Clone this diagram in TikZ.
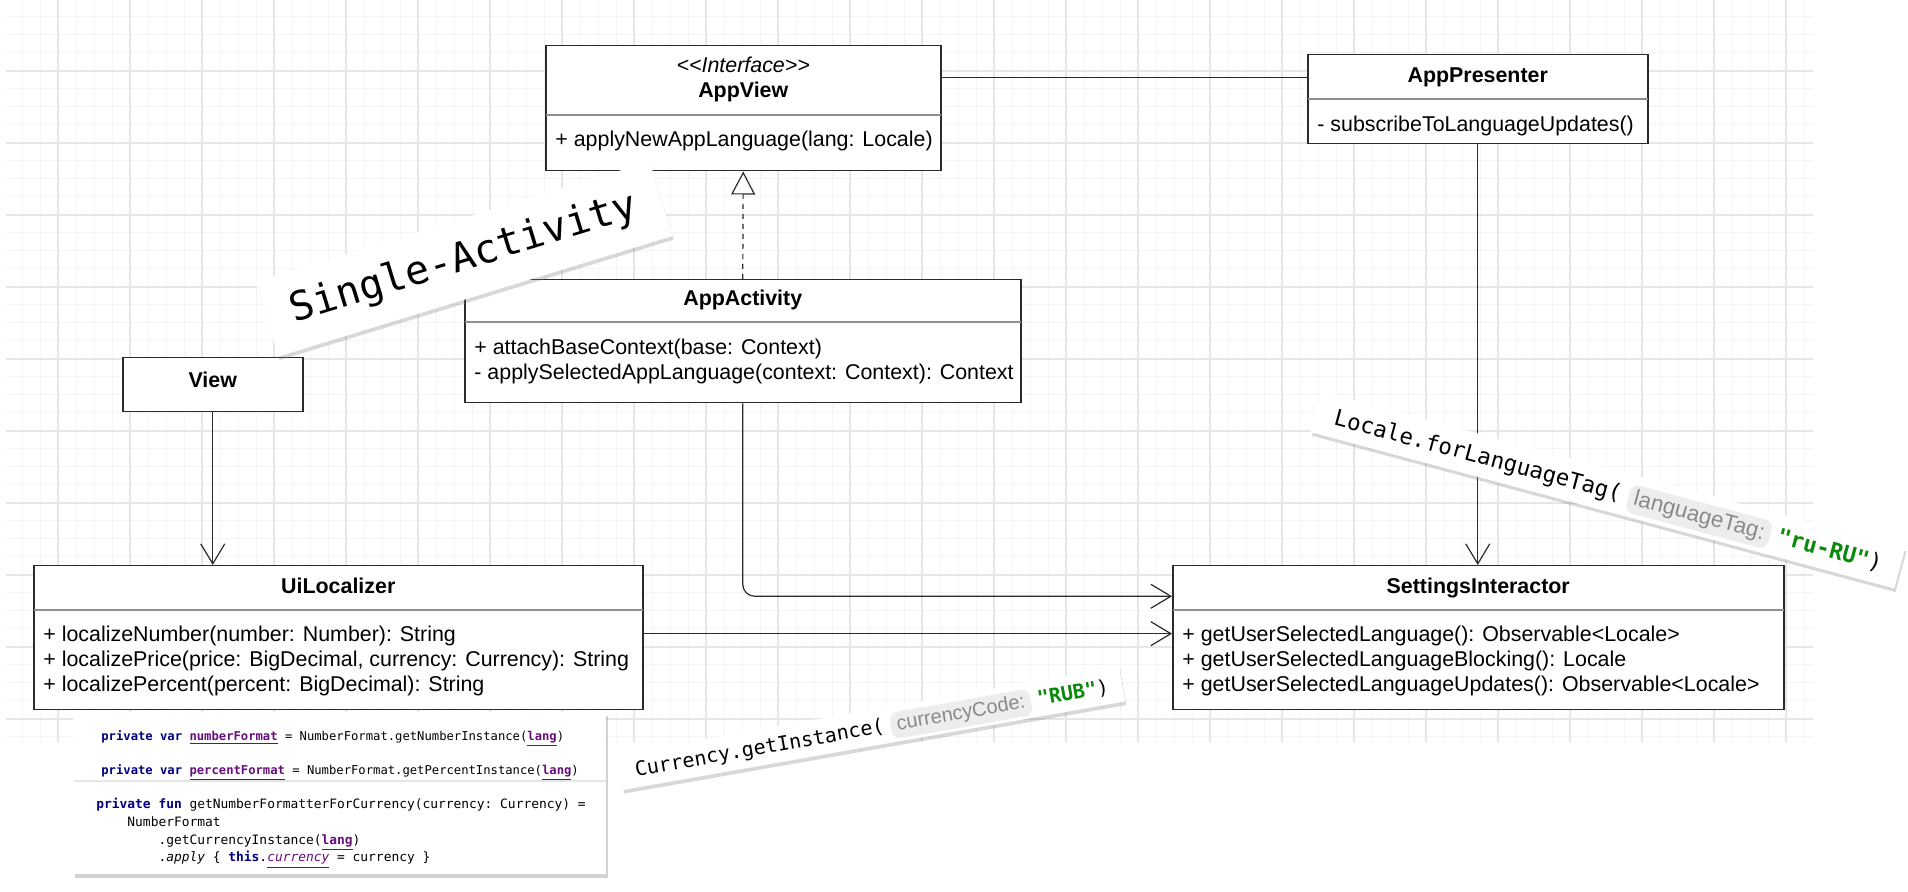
\documentclass[tikz,border=0pt]{standalone}
\usepackage{fontspec}
\setmainfont{Liberation Sans}
\setmonofont{DejaVu Sans Mono}
\usepackage{tikz}
\usetikzlibrary{arrows.meta, positioning, shadows, calc}

\definecolor{gridfaint}{HTML}{F4F4F4}
\definecolor{gridstrong}{HTML}{E6E6E6}
\definecolor{umlline}{HTML}{2B2B2B}
\definecolor{sepline}{HTML}{8F8F8F}
\definecolor{kwnavy}{HTML}{000080}
\definecolor{fieldpurple}{HTML}{660E7A}
\definecolor{strgreen}{HTML}{0A8A0A}
\definecolor{hintbg}{HTML}{EDEDED}
\definecolor{hinttext}{HTML}{8A8A8A}

\newcommand{\codekw}[1]{\textcolor{kwnavy}{\textbf{#1}}}
\newcommand{\codefield}[1]{\textcolor{fieldpurple}{\textbf{\underline{#1}}}}
\newcommand{\codestr}[1]{\textcolor{strgreen}{\textbf{#1}}}

\tikzset{%
	classbox/.style={draw=umlline, line width=0.75pt, fill=white, rectangle, inner sep=0pt, anchor=north west},
	classname/.style={font=\fontsize{10.7}{12.5}\selectfont\bfseries, inner sep=0pt, anchor=base},
	stereo/.style={font=\fontsize{10.7}{12.5}\selectfont\itshape, inner sep=0pt, anchor=base},
	member/.style={font=\fontsize{10.7}{12.5}\selectfont, inner sep=0pt, anchor=base west, xshift=5pt},
	divider/.style={draw=sepline, line width=0.6pt, shorten >=0.4pt, shorten <=0.4pt},
	gridfine/.style={draw=gridfaint, line width=0.5pt},
	gridbold/.style={draw=gridstrong, line width=0.6pt},
	assoc/.style={draw=umlline, line width=0.6pt},
	dep/.style={assoc, -{Straight Barb[length=10pt, width=12pt, line width=0.6pt]}},
	realize/.style={assoc, dash pattern=on 2.5pt off 2.5pt,%
		-{Triangle[length=11.5pt, width=12pt, fill=white, line width=0.6pt]}},
	sticky/.style={fill=white, inner sep=0pt,%
		drop shadow={opacity=0.3, shadow xshift=0.6pt, shadow yshift=-1.8pt}},
	hintcode/.style={inner sep=0pt, anchor=base west},
	hintbox/.style={fill=hintbg, text=hinttext, rounded corners=4pt, inner xsep=3pt, inner ysep=2pt, anchor=base west},
	codebox/.style={fill=white, inner sep=0pt, anchor=north west,%
		drop shadow={opacity=0.35, shadow xshift=1pt, shadow yshift=-2pt}},
	codeline/.style={inner sep=0pt, anchor=north west, align=left}
}

\begin{document}
\begin{tikzpicture}[x=0.5pt, y=-0.5pt]
	\useasboundingbox (0,0) rectangle (1908,892);
	\fill[white] (0,0) rectangle (1908,892);

	% grid paper
	\foreach \gx in {22,40,...,1812} \draw[gridfine] (\gx,0) -- (\gx,742);
	\foreach \gy in {17,35,...,740} \draw[gridfine] (6,\gy) -- (1813,\gy);
	\foreach \gx in {58,130,...,1812} \draw[gridbold] (\gx,0) -- (\gx,742);
	\foreach \gy in {71,143,...,740} \draw[gridbold] (6,\gy) -- (1813,\gy);

	% classes
	\node[classbox, minimum width=197.5pt, minimum height=62.5pt] (appview) at (545,45) {};
	\node[stereo] (appviewstereo) at (appview.north |- 0,73) {<{}<Interface>{}>};
	\node[classname] (appviewname) at (appview.north |- 0,98) {AppView};
	\draw[divider] (appview.west |- 0,115) -- (appview.east |- 0,115);
	\node[member] (appviewop) at (appview.west |- 0,147) {+ applyNewAppLanguage(lang: Locale)};

	\node[classbox, minimum width=170pt, minimum height=44.5pt] (apppresenter) at (1307,54) {};
	\node[classname] (apppresentername) at (apppresenter.north |- 0,83) {AppPresenter};
	\draw[divider] (apppresenter.west |- 0,99) -- (apppresenter.east |- 0,99);
	\node[member] (apppresenterop) at (apppresenter.west |- 0,132) {- subscribeToLanguageUpdates()};

	\node[classbox, minimum width=278pt, minimum height=61.5pt] (appactivity) at (464,279) {};
	\node[classname] (appactivityname) at (appactivity.north |- 0,306) {AppActivity};
	\draw[divider] (appactivity.west |- 0,322) -- (appactivity.east |- 0,322);
	\node[member] (appactivityop1) at (appactivity.west |- 0,355) {+ attachBaseContext(base: Context)};
	\node[member] (appactivityop2) at (appactivity.west |- 0,380) {- applySelectedAppLanguage(context: Context): Context};

	\node[classbox, minimum width=90pt, minimum height=27pt] (view) at (122,357) {};
	\node[classname] (viewname) at (view.north |- 0,388) {View};

	\node[classbox, minimum width=304.5pt, minimum height=72pt] (uilocalizer) at (33,565) {};
	\node[classname] (uilocalizername) at (uilocalizer.north |- 0,594) {UiLocalizer};
	\draw[divider] (uilocalizer.west |- 0,610) -- (uilocalizer.east |- 0,610);
	\node[member] (uilocalizerop1) at (uilocalizer.west |- 0,642) {+ localizeNumber(number: Number): String};
	\node[member] (uilocalizerop2) at (uilocalizer.west |- 0,667) {+ localizePrice(price: BigDecimal, currency: Currency): String};
	\node[member] (uilocalizerop3) at (uilocalizer.west |- 0,692) {+ localizePercent(percent: BigDecimal): String};

	\node[classbox, minimum width=305.5pt, minimum height=72pt] (settings) at (1172,565) {};
	\node[classname] (settingsname) at (settings.north |- 0,594) {SettingsInteractor};
	\draw[divider] (settings.west |- 0,610) -- (settings.east |- 0,610);
	\node[member] (settingsop1) at (settings.west |- 0,642) {+ getUserSelectedLanguage(): Observable<Locale>};
	\node[member] (settingsop2) at (settings.west |- 0,667) {+ getUserSelectedLanguageBlocking(): Locale};
	\node[member] (settingsop3) at (settings.west |- 0,692) {+ getUserSelectedLanguageUpdates(): Observable<Locale>};

	% relations
	\coordinate (viewlink) at ($(appview.north east)!0.256!(appview.south east)$);
	\coordinate (actlink) at ($(settings.north west)!0.215!(settings.south west)$);
	\coordinate (uillink) at ($(uilocalizer.north east)!0.472!(uilocalizer.south east)$);
	\draw[assoc] (viewlink) -- (viewlink -| apppresenter.west);
	\draw[realize] (appactivity.north) -- (appview.south);
	\draw[dep] (view.south) -- (view.south |- uilocalizer.north);
	\draw[dep] (apppresenter.south) -- (apppresenter.south |- settings.north);
	\draw[dep, rounded corners=6pt] (appactivity.south) |- (actlink);
	\draw[dep] (uillink) -- (uillink -| settings.west);

	% stickers
	\node[sticky, rotate=17, minimum width=206pt, minimum height=39pt,%
		font=\fontsize{20}{24}\selectfont\ttfamily] (singleact) at (464,259) {Single-Activity};

	\begin{scope}[shift={(1608,490)}, rotate=-15, transform shape, font=\fontsize{11.2}{13}\selectfont\ttfamily]
		\node[sticky, minimum width=302pt, minimum height=21pt] (localehint) at (0,0) {};
		\node[hintcode] (localecall) at (-283,8) {Locale.forLanguageTag(};
		\node[hintbox, xshift=3.4pt, font=\fontsize{11.2}{13}\selectfont\rmfamily] (localeparam) at (localecall.base east) {languageTag:};
		\node[hintcode, xshift=3.4pt] (localearg) at (localeparam.base east) {\codestr{"ru-RU"})};
	\end{scope}

	\begin{scope}[shift={(871,728)}, rotate=10, transform shape, font=\fontsize{10}{12}\selectfont\ttfamily]
		\node[sticky, minimum width=255pt, minimum height=18pt] (currencyhint) at (0,0) {};
		\node[hintcode] (currencycall) at (-240,7) {Currency.getInstance(};
		\node[hintbox, xshift=3pt, font=\fontsize{10}{12}\selectfont\rmfamily] (currencyparam) at (currencycall.base east) {currencyCode:};
		\node[hintcode, xshift=3pt] (currencyarg) at (currencyparam.base east) {\codestr{"RUB"})};
	\end{scope}

	% code screenshot
	\node[codebox, minimum width=266.5pt, minimum height=81pt] (codesnip) at (73,712) {};
	\draw[divider, draw=gridstrong] (codesnip.west |- 0,781) -- (codesnip.east |- 0,781);
	\node[codeline, xshift=14pt, font=\fontsize{6.1}{17}\selectfont\ttfamily] (codefields) at (codesnip.west |- 0,730)
		{\codekw{private var} \codefield{numberFormat} = NumberFormat.getNumberInstance(\codefield{lang})\\
		\codekw{private var} \codefield{percentFormat} = NumberFormat.getPercentInstance(\codefield{lang})};
	\node[codeline, xshift=11.5pt, font=\fontsize{6.45}{8.8}\selectfont\ttfamily] (codefun) at (codesnip.west |- 0,798)
		{\codekw{private fun} getNumberFormatterForCurrency(currency: Currency) =\\
		\hphantom{0000}NumberFormat\\
		\hphantom{00000000}.getCurrencyInstance(\codefield{lang})\\
		\hphantom{00000000}.\textit{apply} \{ \codekw{this}.\textcolor{fieldpurple}{\textit{\underline{currency}}} = currency \}};
\end{tikzpicture}
\end{document}
